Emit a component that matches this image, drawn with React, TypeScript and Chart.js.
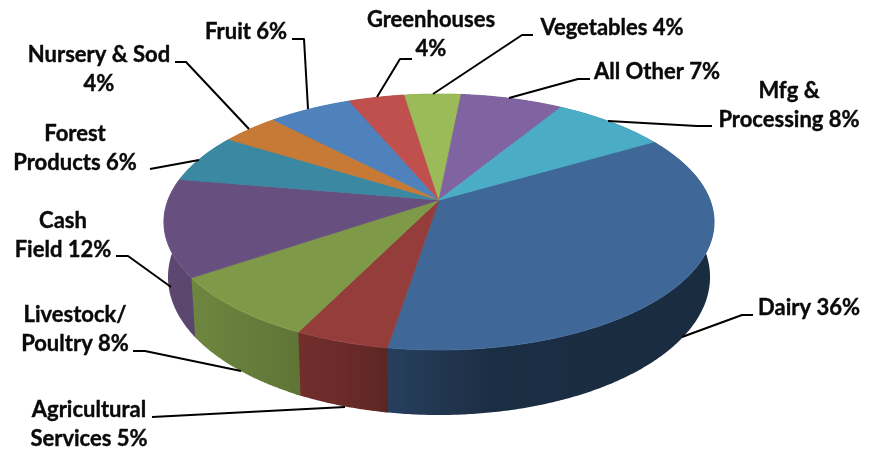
import React, { useEffect, useRef } from "react";
import { Chart, registerables } from "chart.js";

Chart.register(...registerables);

const categories = ["Dairy", "Agricultural Services", "Livestock/Poultry", "Cash Field", "Forest Products", "Nursery & Sod", "Fruit", "Greenhouses", "Vegetables", "All Other", "Mfg & Processing"];
const shares = [36, 4.7, 8.2, 12.3, 6.2, 4, 5.8, 3.9, 3.9, 7.1, 7.9];
const sliceColors = ["#3f6899", "#953d3a", "#7e9a48", "#67507f", "#3b88a2", "#c77a35", "#4f81bd", "#c0504d", "#9bbb59", "#8064a2", "#4bacc6"];

const labelLines = [
  ["Dairy 36%"],
  ["Agricultural", "Services 5%"],
  ["Livestock/", "Poultry 8%"],
  ["Cash", "Field 12%"],
  ["Forest", "Products 6%"],
  ["Nursery & Sod", "4%"],
  ["Fruit 6%"],
  ["Greenhouses", "4%"],
  ["Vegetables 4%"],
  ["All Other 7%"],
  ["Mfg &", "Processing 8%"],
];

// layout only: label centre (x, first baseline y) and leader polyline
const labelCentres = [[809, 315], [89, 417], [75, 322], [63, 228], [75, 141], [99, 62], [246, 39], [431, 27], [612, 35], [657, 79], [789, 98]];
const leaders = [
  [[753, 315], [742, 315], [682, 337]],
  [[152, 417], [345, 407]],
  [[133, 351], [145, 351], [241, 371]],
  [[116, 256], [128, 256], [171, 287]],
  [[150, 169], [199, 160]],
  [[175, 62], [186, 62], [249, 129]],
  [[292, 39], [304, 39], [308, 109]],
  [[412, 59], [400, 59], [377, 97]],
  [[533, 35], [522, 35], [433, 94]],
  [[590, 79], [578, 79], [509, 98]],
  [[712, 126], [697, 126], [608, 121]],
];

const LINE_HEIGHT = 29;
const TILT = -0.172;
const topFace = { cx: 439, cy: 222, w: 271, h: 128 };
const baseFace = { cx: 439, cy: 277, w: 267, h: 138 };

function project(face: typeof topFace, u: number, v: number): [number, number] {
  const d = 1 + TILT * v;
  return [face.cx + (face.w * u) / d, face.cy + (face.h * v + TILT * face.h) / d];
}

function shade(hex: string, f: number): string {
  const n = parseInt(hex.slice(1), 16);
  const c = [(n >> 16) & 255, (n >> 8) & 255, n & 255].map((x) => Math.round(x * f));
  return `rgb(${c[0]},${c[1]},${c[2]})`;
}

const pie3d = {
  id: "pie3d",
  beforeDatasetsDraw(chart: any) {
    const ctx: CanvasRenderingContext2D = chart.ctx;
    const arcs = chart.getDatasetMeta(0).data;
    const step = Math.PI / 360;
    ctx.save();
    ctx.lineJoin = "round";
    arcs.forEach((arc: any, i: number) => {
      const { startAngle, endAngle } = arc;
      const g = ctx.createLinearGradient(164, 0, 714, 0);
      g.addColorStop(0, shade(sliceColors[i], 0.9));
      g.addColorStop(0.33, shade(sliceColors[i], 0.71));
      g.addColorStop(0.42, shade(sliceColors[i], 0.6));
      g.addColorStop(0.6, shade(sliceColors[i], 0.43));
      g.addColorStop(1, shade(sliceColors[i], 0.42));
      ctx.fillStyle = g;
      ctx.beginPath();
      const stop = endAngle + step * 2;
      for (let a = startAngle; a < stop - 1e-6; a += step) {
        const b = Math.min(a + step, stop);
        const q = [
          project(topFace, Math.cos(a), Math.sin(a)),
          project(topFace, Math.cos(b), Math.sin(b)),
          project(baseFace, Math.cos(b), Math.sin(b)),
          project(baseFace, Math.cos(a), Math.sin(a)),
        ];
        ctx.moveTo(q[0][0], q[0][1]);
        q.slice(1).forEach((p) => ctx.lineTo(p[0], p[1]));
        ctx.closePath();
      }
      ctx.fill();
    });
    ctx.lineWidth = 0.8;
    arcs.forEach((arc: any, i: number) => {
      const { startAngle, endAngle } = arc;
      const apex = project(topFace, 0, 0);
      ctx.beginPath();
      ctx.moveTo(apex[0], apex[1]);
      for (let a = startAngle; a < endAngle; a += step) {
        const p = project(topFace, Math.cos(a), Math.sin(a));
        ctx.lineTo(p[0], p[1]);
      }
      const e = project(topFace, Math.cos(endAngle), Math.sin(endAngle));
      ctx.lineTo(e[0], e[1]);
      ctx.closePath();
      ctx.fillStyle = sliceColors[i];
      ctx.strokeStyle = sliceColors[i];
      ctx.fill();
      ctx.stroke();
    });
    ctx.restore();
    return false;
  },
  afterDraw(chart: any) {
    const ctx: CanvasRenderingContext2D = chart.ctx;
    ctx.save();
    ctx.strokeStyle = "#000";
    ctx.lineWidth = 2;
    ctx.lineJoin = "round";
    leaders.forEach((pts) => {
      ctx.beginPath();
      pts.forEach((p, i) => (i ? ctx.lineTo(p[0], p[1]) : ctx.moveTo(p[0], p[1])));
      ctx.stroke();
    });
    ctx.fillStyle = "#0a0a0a";
    ctx.strokeStyle = "#0a0a0a";
    ctx.lineWidth = 0.4;
    ctx.font = 'bold 22px Lato, "Open Sans", sans-serif';
    ctx.textAlign = "center";
    ctx.textBaseline = "alphabetic";
    labelLines.forEach((lines, i) => {
      lines.forEach((t, j) => {
        const x = labelCentres[i][0];
        const y = labelCentres[i][1] + j * LINE_HEIGHT;
        ctx.fillText(t, x, y);
        ctx.strokeText(t, x, y);
      });
    });
    ctx.restore();
  },
};

export default function App() {
  const ref = useRef<HTMLCanvasElement>(null);
  useEffect(() => {
    document.body.style.margin = "0";
    document.body.style.background = "#fff";
    const chart = new Chart(ref.current!, {
      type: "pie",
      data: {
        labels: categories,
        datasets: [{ data: shares, backgroundColor: sliceColors, borderWidth: 0 }],
      },
      options: {
        responsive: false,
        animation: false,
        rotation: 59.5,
        plugins: { legend: { display: false }, tooltip: { enabled: false } },
      },
      plugins: [pie3d],
    } as any);
    return () => chart.destroy();
  }, []);
  return <canvas ref={ref} width={874} height={449} style={{ display: "block" }} />;
}
